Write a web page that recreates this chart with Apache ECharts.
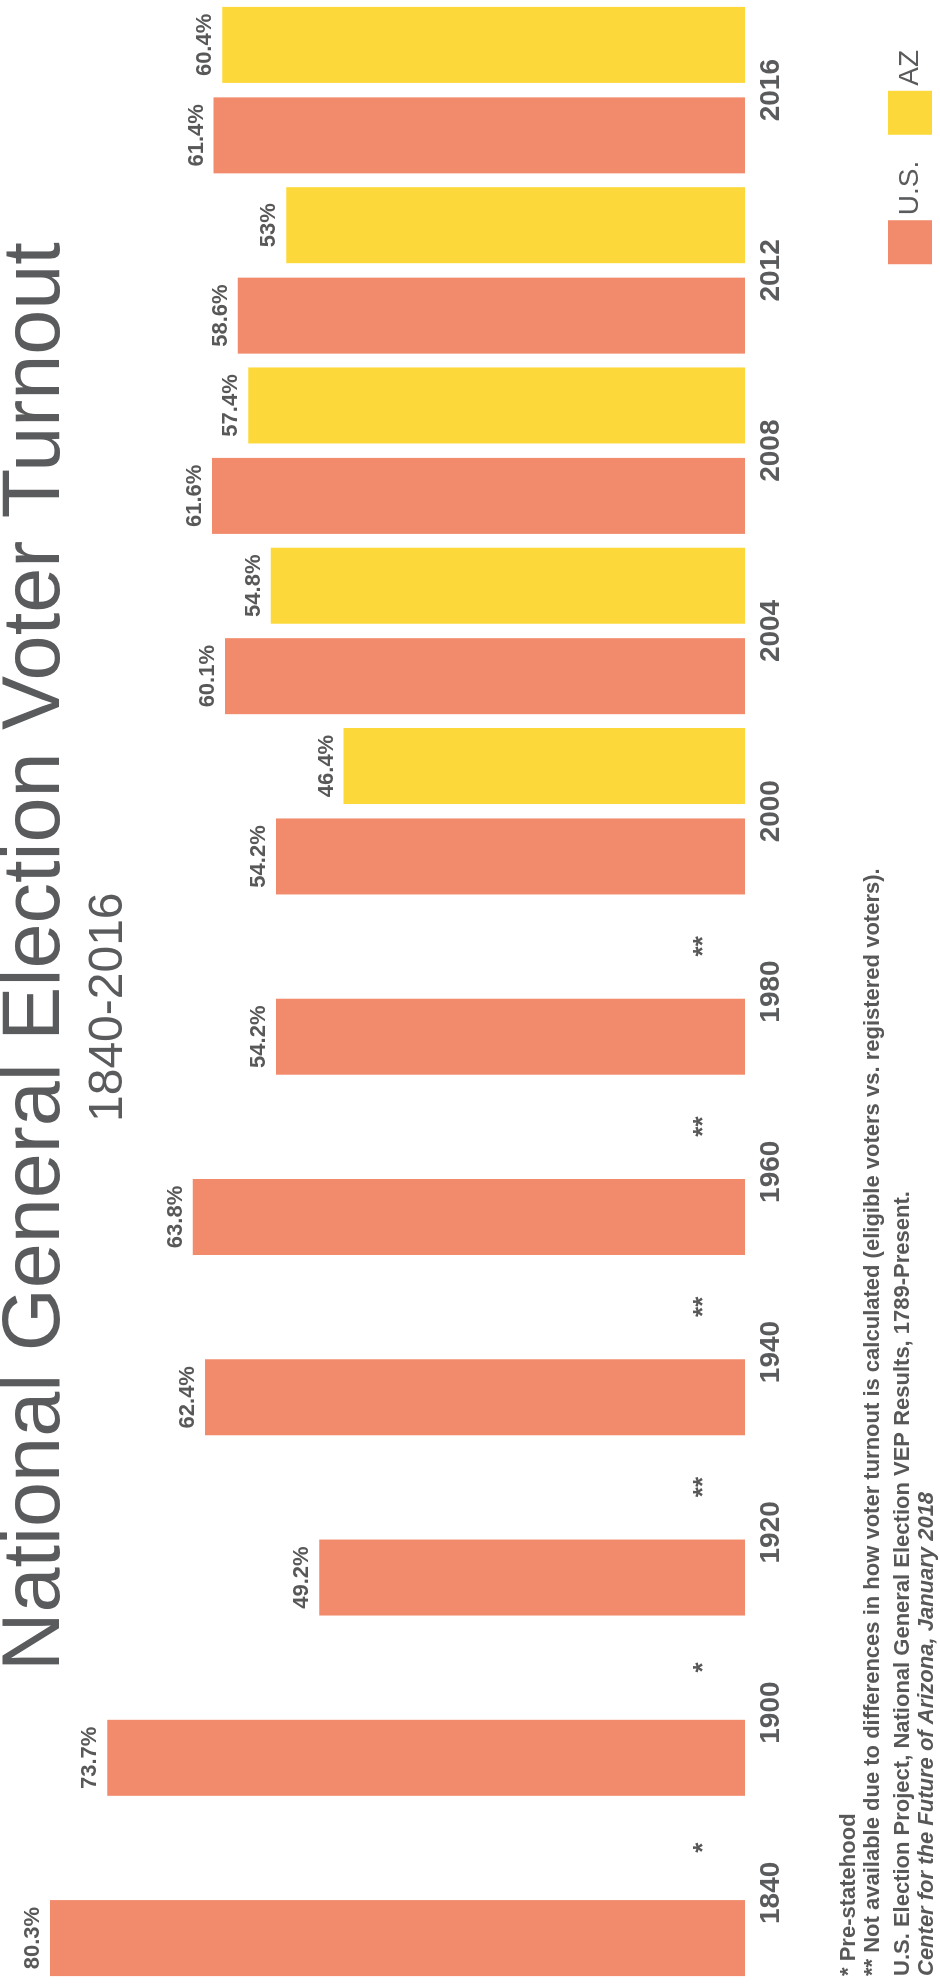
<!DOCTYPE html>
<html><head><meta charset="utf-8">
<script src="https://cdn.jsdelivr.net/npm/echarts@6/dist/echarts.min.js"></script>
<style>
html,body{margin:0;padding:0;background:#fff;overflow:hidden;width:940px;height:1986px;}
#wrap{position:absolute;left:0;top:0;width:1986px;height:940px;transform-origin:0 0;transform:translate(0,1986px) rotate(-90deg);}
#chart{width:1986px;height:940px;}
</style></head><body>
<div id="wrap"><div id="chart"></div></div>
<script>
const years = ['1840','1900','1920','1940','1960','1980','2000','2004','2008','2012','2016'];
const usTurnout = [80.3, 73.7, 49.2, 62.4, 63.8, 54.2, 54.2, 60.1, 61.6, 58.6, 61.4];
const azTurnout = [null, null, null, null, null, null, 46.4, 54.8, 57.4, 53, 60.4];
const azNotes = ['*', '*', '**', '**', '**', '**', '', '', '', '', ''];
const seriesNames = ['U.S.', 'AZ'];
const titleText = 'National General Election Voter Turnout';
const subtitleText = '1840-2016';
const footnotes = [
  '* Pre-statehood',
  '** Not available due to differences in how voter turnout is calculated (eligible voters vs. registered voters).',
  'U.S. Election Project, National General Election VEP Results, 1789-Present.',
  'Center for the Future of Arizona, January 2018'
];

const US_COLOR = '#F18B6B';
const AZ_COLOR = '#FDD83B';
const GREY = '#5a5b5d';
const LABEL_GREY = '#585858';
const FONT = '"Liberation Sans", Arial, sans-serif';

const chart = echarts.init(document.getElementById('chart'), null, {renderer: 'canvas'});

const azData = azTurnout.map((v, i) => {
  if (v === null) {
    return {value: 0, label: {show: true, formatter: azNotes[i], distance: 28, fontSize: 26}};
  }
  return {value: v};
});

const valueLabel = {
  show: true, position: 'top', distance: 6,
  formatter: p => p.value + '%',
  fontFamily: FONT, fontWeight: 'bold', fontSize: 22, color: LABEL_GREY
};

chart.setOption({
  backgroundColor: '#ffffff',
  animation: false,
  title: [
    {
      text: titleText,
      left: 315,
      top: -4,
      padding: 0,
      textStyle: {fontFamily: FONT, fontSize: 81, fontWeight: 'normal', color: GREY}
    },
    {
      text: subtitleText,
      left: 864,
      top: 85,
      padding: 0,
      textStyle: {fontFamily: FONT, fontSize: 48, fontWeight: 'normal', color: GREY}
    }
  ],
  legend: {
    data: seriesNames,
    right: 50,
    bottom: 8,
    icon: 'rect',
    itemWidth: 44,
    itemHeight: 44,
    itemGap: 26,
    padding: 0,
    textStyle: {fontFamily: FONT, fontSize: 28, color: GREY}
  },
  grid: {left: 3, width: 1984, top: 44, bottom: 195},
  xAxis: {
    type: 'category',
    data: years,
    axisLine: {show: false},
    axisTick: {show: false},
    axisLabel: {fontFamily: FONT, fontWeight: 'bold', fontSize: 28, color: GREY, margin: 12}
  },
  yAxis: {
    type: 'value',
    min: 0,
    max: 81,
    show: false,
    splitLine: {show: false}
  },
  series: [
    {
      name: seriesNames[0],
      type: 'bar',
      barWidth: 76,
      barGap: '19%',
      itemStyle: {color: US_COLOR},
      data: usTurnout,
      label: valueLabel
    },
    {
      name: seriesNames[1],
      type: 'bar',
      barWidth: 76,
      itemStyle: {color: AZ_COLOR},
      data: azData,
      label: valueLabel
    }
  ],
  graphic: footnotes.map((t, i) => ({
    type: 'text',
    left: 10,
    top: [838, 862, 892, 916][i],
    style: {
      text: t,
      font: (i === 3 ? 'italic bold ' : 'bold ') + '22px ' + FONT,
      fill: LABEL_GREY
    }
  }))
});
</script>
</body></html>
